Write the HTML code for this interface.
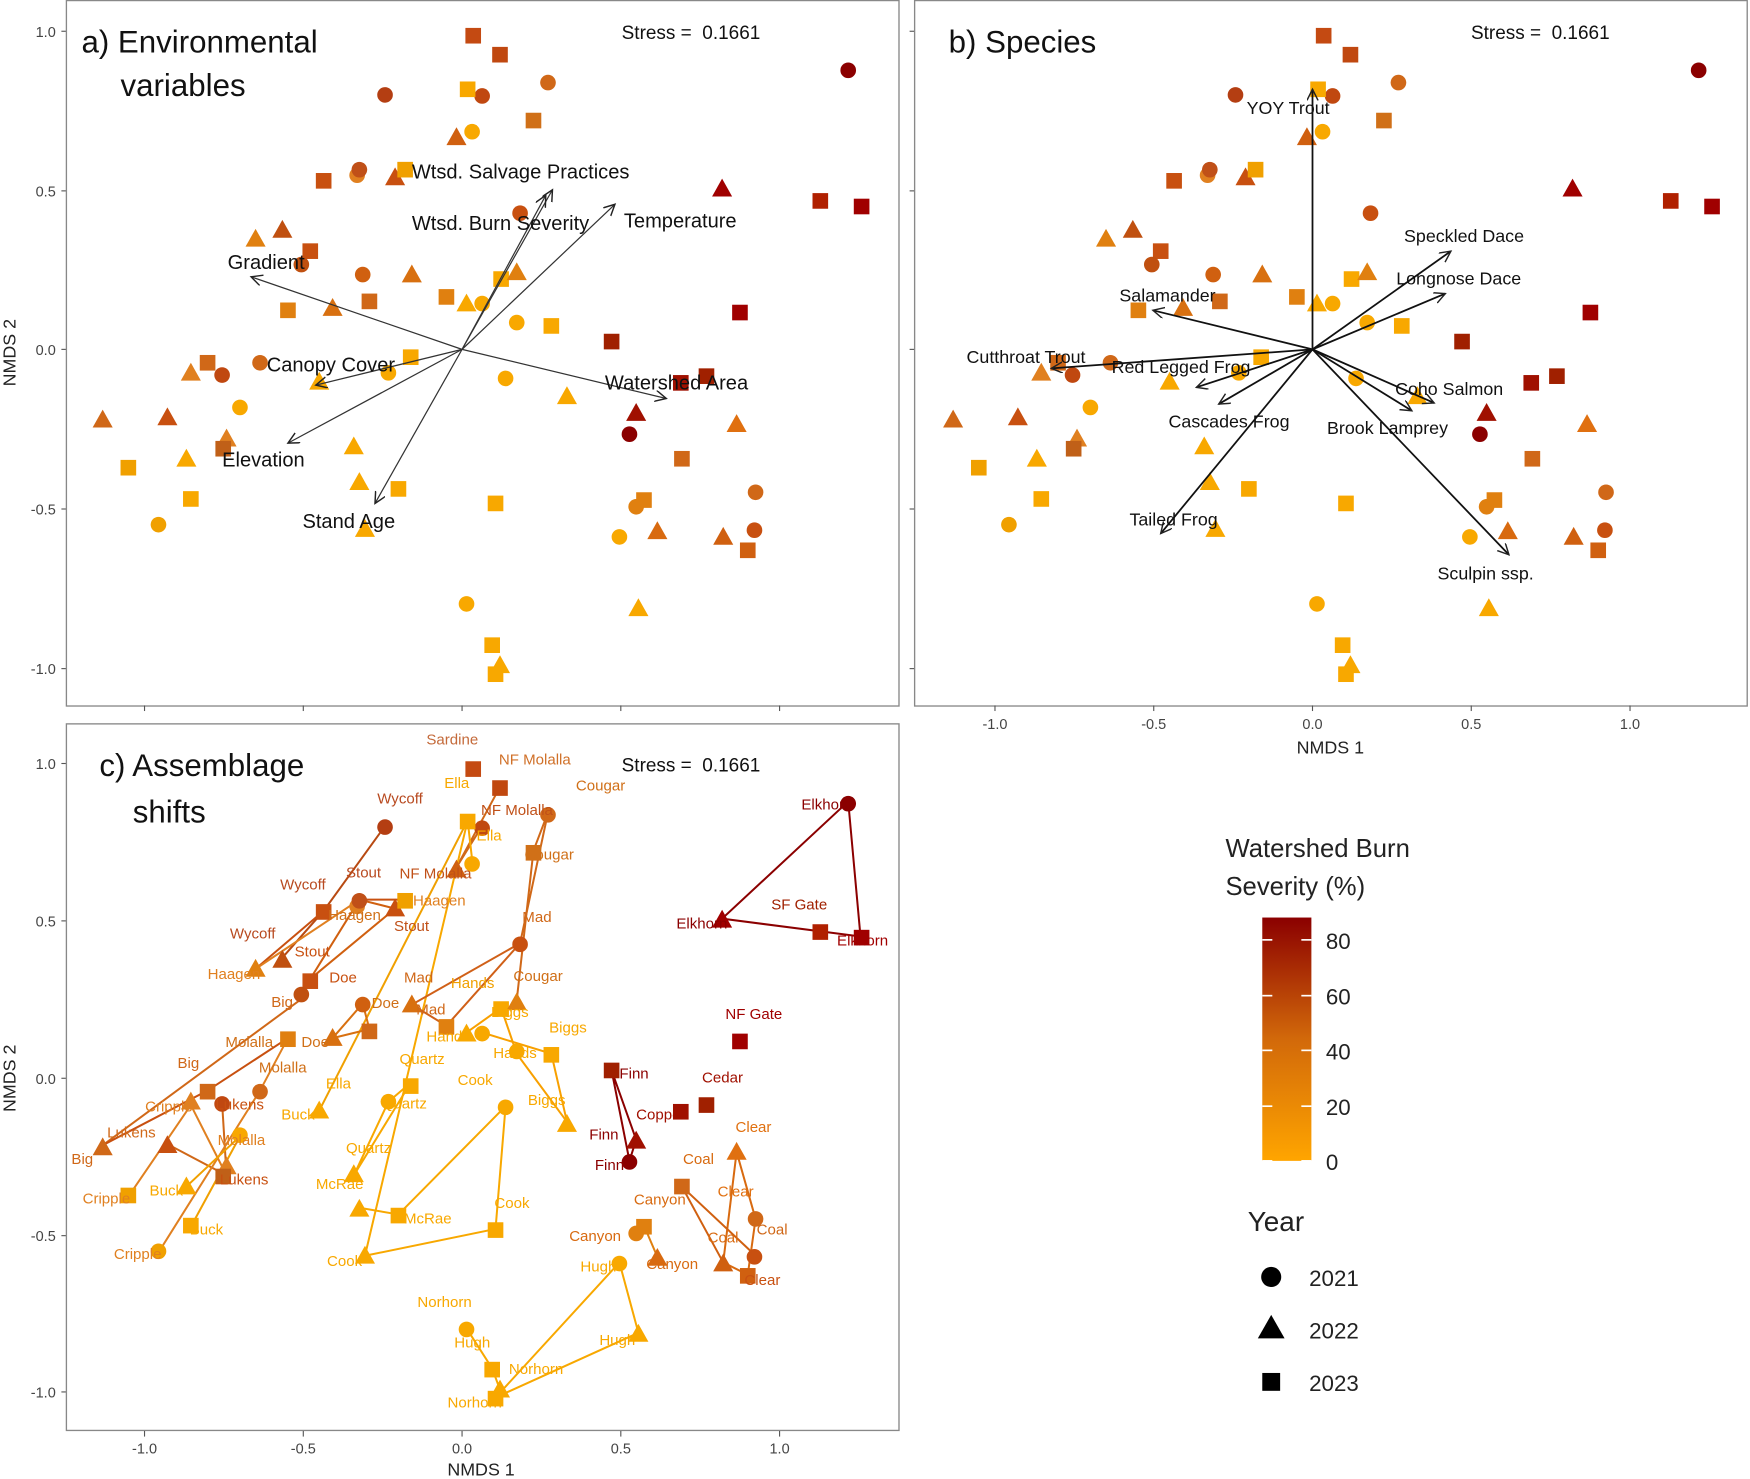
<!DOCTYPE html>
<html><head><meta charset="utf-8"><style>
html,body{margin:0;padding:0;background:#fff}
svg{display:block}
text{font-family:"Liberation Sans",Arial,sans-serif}
</style></head><body>
<svg id="s" width="1750" height="1479" viewBox="0 0 1568 1325" preserveAspectRatio="none" xmlns="http://www.w3.org/2000/svg">
<defs>
<marker id="ah" markerWidth="12" markerHeight="12" refX="10" refY="5" orient="auto" markerUnits="userSpaceOnUse"><path d="M0,0 L10,5 L0,10" fill="none" stroke="#222" stroke-width="1.3"/></marker>
<linearGradient id="cb" x1="0" y1="1" x2="0" y2="0"><stop offset="0" stop-color="#ffa500"/><stop offset="0.5" stop-color="#d2690a"/><stop offset="1" stop-color="#8b0000"/></linearGradient>
</defs>
<g id="g"></g>
</svg>
<script>
const P=[
[424,32,'s','#c44a12'],[448,49,'s','#c04810'],[345,85,'c','#b43e12'],[432,86,'c','#c04810'],[419,80,'s','#f8a800'],[491,74,'c','#d06818'],[478,108,'s','#d07018'],[423,118,'c','#f8a800'],[409,123,'t','#d06010'],[760,63,'c','#8b0000'],[647,169,'t','#a00000'],[735,180,'s','#b02000'],[772,185,'s','#a00000'],[290,162,'s','#c85010'],[320,157,'c','#e08020'],[322,152,'c','#c05018'],[354,159,'t','#c85010'],[363,152,'s','#f0a000'],[466,191,'c','#c85010'],[229,214,'t','#e08010'],[253,206,'t','#c05010'],[278,225,'s','#c85010'],[270,237,'c','#c05010'],[325,246,'c','#d06010'],[369,246,'t','#d87010'],[400,266,'s','#e08010'],[418,272,'t','#f8a800'],[432,272,'c','#f8a800'],[449,250,'s','#f8a800'],[463,244,'t','#e08010'],[258,278,'s','#e08010'],[331,270,'s','#d06818'],[298,276,'t','#d87010'],[463,289,'c','#f8a800'],[494,292,'s','#f8a800'],[548,306,'s','#a02000'],[663,280,'s','#a00000'],[186,325,'s','#d06818'],[199,336,'c','#c04810'],[171,334,'t','#e08020'],[233,325,'c','#d06818'],[368,320,'s','#f8a800'],[348,334,'c','#f8a800'],[286,342,'t','#f8a800'],[453,339,'c','#f8a800'],[508,355,'t','#f8a800'],[633,337,'s','#a02000'],[610,343,'s','#a01000'],[570,370,'t','#a01000'],[564,389,'c','#8b0000'],[92,376,'t','#d06818'],[150,374,'t','#c85010'],[215,365,'c','#f8a800'],[203,393,'t','#e08020'],[200,402,'s','#c06018'],[660,380,'t','#e07010'],[611,411,'s','#d06818'],[115,419,'s','#f0a000'],[167,411,'t','#f8a800'],[317,400,'t','#f8a800'],[322,432,'t','#f8a800'],[357,438,'s','#f8a800'],[444,451,'s','#f8a800'],[171,447,'s','#f8a800'],[142,470,'c','#f0a000'],[327,474,'t','#f8a800'],[577,448,'s','#e08010'],[570,454,'c','#e08010'],[677,441,'c','#d06818'],[589,476,'t','#d86a10'],[555,481,'c','#f8a800'],[648,481,'t','#d06010'],[676,475,'c','#c85010'],[670,493,'s','#d06010'],[572,545,'t','#f8a800'],[418,541,'c','#f8a800'],[441,578,'s','#f8a800'],[448,596,'t','#f8a800'],[444,604,'s','#f8a800']];
let h='';
function sym(x,y,t,c){if(t=='c')return `<circle cx="${x}" cy="${y}" r="7" fill="${c}"/>`;if(t=='s')return `<rect x="${x-7}" y="${y-7}" width="14" height="14" fill="${c}"/>`;return `<polygon points="${x},${y-9} ${x+9},${y+7} ${x-9},${y+7}" fill="${c}"/>`;}
function tx(x,y,s,size,c,anchor){return `<text x="${x}" y="${y}" font-size="${size}" fill="${c||'#111'}" ${anchor?'text-anchor="'+anchor+'"':''}>${s}</text>`;}
// frames
h+=`<rect x="59.5" y="0.5" width="746" height="632" fill="none" stroke="#888" stroke-width="1.2"/>`;
h+=`<rect x="819.5" y="0.5" width="746" height="632" fill="none" stroke="#888" stroke-width="1.2"/>`;
h+=`<rect x="59.5" y="648.5" width="746" height="633" fill="none" stroke="#888" stroke-width="1.2"/>`;
// axes ticks
const yt=[[28,'1.0'],[171,'0.5'],[313,'0.0'],[456,'-0.5'],[599,'-1.0']];
yt.forEach(([y,l])=>{h+=`<line x1="55" x2="59" y1="${y}" y2="${y}" stroke="#555"/>`+tx(50,y+5,l,13,'#444','end');h+=`<line x1="815" x2="819" y1="${y}" y2="${y}" stroke="#555"/>`;});
const yc=[[684,'1.0'],[825,'0.5'],[966,'0.0'],[1107,'-0.5'],[1247,'-1.0']];
yc.forEach(([y,l])=>{h+=`<line x1="55" x2="59" y1="${y}" y2="${y}" stroke="#555"/>`+tx(50,y+5,l,13,'#444','end');});
const xt=[[-1,'-1.0'],[-.5,'-0.5'],[0,'0.0'],[.5,'0.5'],[1,'1.0']];
xt.forEach(([v,l])=>{let x=414+v*284.5;h+=`<line x1="${x}" x2="${x}" y1="632" y2="637" stroke="#555"/><line x1="${x}" x2="${x}" y1="1282" y2="1287" stroke="#555"/>`+tx(x,1302,l,13,'#444','middle');let x2=1176+v*284.5;h+=`<line x1="${x2}" x2="${x2}" y1="632" y2="637" stroke="#555"/>`+tx(x2,653,l,13,'#444','middle');});
h+=tx(1192,675,'NMDS 1',16,'#222','middle')+tx(431,1322,'NMDS 1',16,'#222','middle');
h+=`<text transform="translate(14,316) rotate(-90)" font-size="16" text-anchor="middle" fill="#222">NMDS 2</text>`;
h+=`<text transform="translate(14,966) rotate(-90)" font-size="16" text-anchor="middle" fill="#222">NMDS 2</text>`;
// points a and b
P.forEach(p=>{h+=sym(p[0],p[1],p[2],p[3]);h+=sym(p[0]+762,p[1],p[2],p[3]);});
// lines in c
const L=[['#8b0000',[[760,718],[647,823],[771,839],[760,718]]],['#8b0000',[[548,959],[570,1021],[564,1040],[548,959]]],
['#b84a12',[[345,740],[290,816],[253,858]]],['#c85010',[[290,816],[229,868]]],['#e08020',[[322,806],[229,868]]],['#d06010',[[354,814],[322,806],[278,877],[354,814]]],['#c85010',[[363,806],[322,806]]],
['#f0a000',[[419,735],[286,995]]],['#d06818',[[432,740],[409,777],[448,705]]],['#f8a800',[[423,770],[419,735],[327,1125]]],
['#d06818',[[491,728],[478,762],[463,896]]],['#d06818',[[491,728],[466,845]]],['#d06018',[[466,845],[369,900],[400,919],[466,845]]],
['#f8a000',[[418,925],[449,903],[463,944],[508,1005]]],['#f8a000',[[432,925],[494,944],[508,1005]]],
['#d06818',[[92,1026],[270,895]]],['#c85010',[[92,1026],[186,977],[258,930]]],['#d06818',[[150,1025],[203,1053],[199,988]]],['#e08020',[[115,1072],[171,990],[203,1053]]],['#e08020',[[142,1122],[233,977],[258,930]]],['#f0a000',[[171,1099],[215,1018],[167,1063]]],
['#d87010',[[298,930],[325,899],[331,922],[298,930]]],
['#f8a800',[[348,987],[317,1053],[368,970],[348,987]]],['#f8a800',[[453,991],[357,1088],[322,1082]]],['#f8a800',[[327,1125],[444,1101],[453,991]]],
['#f8a800',[[418,1190],[441,1226],[448,1245]]],['#f8a800',[[555,1131],[572,1194],[444,1252],[555,1131]]],
['#d86a10',[[660,1032],[648,1131],[670,1142],[677,1092],[660,1032]]],['#d06010',[[611,1063],[648,1131]]],['#d06010',[[611,1063],[676,1124]]],['#e08010',[[570,1104],[577,1098],[589,1126]]]];
L.forEach(([c,pts])=>{h+=`<polyline points="${pts.map(p=>p.join(',')).join(' ')}" fill="none" stroke="${c}" stroke-width="1.8"/>`;});
P.forEach(p=>{let y=Math.round(966+(p[1]-313)*0.986);h+=sym(p[0],y,p[2],p[3]);});
// c labels
const CL=[[382,667,'Sardine','#c46a3a'],[447,685,'NF Molalla','#d07028'],[516,708,'Cougar','#d07018'],[398,706,'Ella','#f8a800'],[338,720,'Wycoff','#b84a20'],[431,730,'NF Molalla','#c05018'],[427,753,'Ella','#f8a800'],[470,770,'Cougar','#d07018'],[310,786,'Stout','#b84a20'],[358,787,'NF Molalla','#c05018'],[251,797,'Wycoff','#b84a20'],[370,811,'Haagen','#e08020'],[294,824,'Haagen','#d07018'],[353,834,'Stout','#c05018'],[468,826,'Mad','#d06818'],[206,841,'Wycoff','#b84a20'],[264,857,'Stout','#c85010'],[186,877,'Haagen','#e08020'],[295,880,'Doe','#c85010'],[362,880,'Mad','#d06818'],[404,885,'Hands','#f0a000'],[460,879,'Cougar','#d07018'],[243,902,'Big','#d06818'],[333,903,'Doe','#d07018'],[373,909,'Mad','#d06818'],[440,911,'Biggs','#f8a800'],[492,925,'Biggs','#f8a800'],[382,933,'Hands','#f8a800'],[202,938,'Molalla','#d07018'],[270,938,'Doe','#d07018'],[442,948,'Hands','#f8a800'],[358,953,'Quartz','#f8a800'],[159,957,'Big','#d06818'],[232,961,'Molalla','#d07018'],[410,972,'Cook','#f8a800'],[292,975,'Ella','#f8a800'],[473,990,'Biggs','#f8a800'],[342,993,'Quartz','#f8a800'],[130,996,'Cripple','#e08020'],[193,994,'Lukens','#c85010'],[252,1003,'Buck','#f8a800'],[96,1019,'Lukens','#d06818'],[195,1026,'Molalla','#e08020'],[310,1033,'Quartz','#f8a800'],[64,1043,'Big','#d06818'],[197,1061,'Lukens','#c85010'],[283,1065,'McRae','#f8a800'],[74,1078,'Cripple','#e08020'],[134,1071,'Buck','#f8a800'],[170,1106,'Buck','#f8a800'],[362,1096,'McRae','#f8a800'],[443,1082,'Cook','#f8a800'],[102,1128,'Cripple','#e08020'],[293,1134,'Cook','#f8a800'],[374,1171,'Norhorn','#f8a800'],[407,1207,'Hugh','#f8a800'],[456,1231,'Norhorn','#f8a800'],[401,1261,'Norhorn','#f8a800'],[520,1139,'Hugh','#f8a800'],[537,1205,'Hugh','#f8a800'],[718,725,'Elkhorn','#8b0000'],[691,815,'SF Gate','#a02000'],[606,832,'Elkhorn','#8b0000'],[750,847,'Elkhorn','#a00000'],[650,913,'NF Gate','#a00000'],[629,970,'Cedar','#a01000'],[555,966,'Finn','#8b0000'],[570,1003,'Copper','#a01000'],[528,1021,'Finn','#8b0000'],[533,1048,'Finn','#8b0000'],[659,1014,'Clear','#e07010'],[612,1043,'Coal','#d86a10'],[568,1079,'Canyon','#d86a10'],[643,1072,'Clear','#e07010'],[678,1106,'Coal','#d06818'],[634,1113,'Coal','#d86a10'],[510,1112,'Canyon','#d86a10'],[579,1137,'Canyon','#d86a10'],[667,1151,'Clear','#c85010']];
CL.forEach(([x,y,s,c])=>{h+=tx(x,y,s,13.5,c);});
// arrows a
const A=[[495,170],[489,175],[551,183],[225,248],[283,345],[258,397],[336,451],[597,357]];
A.forEach(([x,y])=>{h+=`<line x1="414" y1="313" x2="${x}" y2="${y}" stroke="#333" stroke-width="1.1" marker-end="url(#ah)"/>`;});
const AL=[[369,160,'Wtsd. Salvage Practices'],[369,206,'Wtsd. Burn Severity'],[559,204,'Temperature'],[204,241,'Gradient'],[239,333,'Canopy Cover'],[199,418,'Elevation'],[271,473,'Stand Age'],[542,349,'Watershed Area']];
AL.forEach(([x,y,s])=>{h+=tx(x,y,s,18,'#111');});
const B=[[1176,80],[1300,225],[1295,263],[1033,278],[942,330],[1072,347],[1092,362],[1040,478],[1285,361],[1265,368],[1352,497]];
B.forEach(([x,y])=>{h+=`<line x1="1176" y1="313" x2="${x}" y2="${y}" stroke="#111" stroke-width="1.6" marker-end="url(#ah)"/>`;});
const BL=[[1117,102,'YOY Trout'],[1258,217,'Speckled Dace'],[1251,255,'Longnose Dace'],[1003,270,'Salamander'],[866,325,'Cutthroat Trout'],[996,334,'Red Legged Frog'],[1047,383,'Cascades Frog'],[1012,471,'Tailed Frog'],[1250,354,'Coho Salmon'],[1189,389,'Brook Lamprey'],[1288,519,'Sculpin ssp.']];
BL.forEach(([x,y,s])=>{h+=tx(x,y,s,16,'#111');});
// titles
h+=tx(73,47,'a) Environmental',28,'#111')+tx(108,86,'variables',28,'#111')+tx(850,47,'b) Species',28,'#111')+tx(89,695,'c) Assemblage',28,'#111')+tx(119,737,'shifts',28,'#111');
h+=tx(557,35,'Stress =&#160; 0.1661',17,'#111')+tx(1318,35,'Stress =&#160; 0.1661',17,'#111')+tx(557,691,'Stress =&#160; 0.1661',17,'#111');
// legend
h+=tx(1098,768,'Watershed Burn',23,'#222')+tx(1098,802,'Severity (%)',23,'#222');
h+=`<rect x="1131" y="822" width="44" height="218" fill="url(#cb)"/>`;
[[842,'80'],[892,'60'],[941,'40'],[991,'20'],[1040,'0']].forEach(([y,l])=>{h+=`<line x1="1131" x2="1140" y1="${y}" y2="${y}" stroke="#fff" stroke-width="1.5"/><line x1="1166" x2="1175" y1="${y}" y2="${y}" stroke="#fff" stroke-width="1.5"/>`+tx(1188,y+8,l,20,'#222');});
h+=tx(1118,1103,'Year',25,'#222');
h+=`<circle cx="1139" cy="1144" r="9" fill="#000"/><polygon points="1139,1178 1151,1199 1127,1199" fill="#000"/><rect x="1131" y="1230" width="16" height="16" fill="#000"/>`;
h+=tx(1173,1152,'2021',20,'#222')+tx(1173,1199,'2022',20,'#222')+tx(1173,1246,'2023',20,'#222');
document.getElementById('g').innerHTML=h;
</script>
</body></html>
